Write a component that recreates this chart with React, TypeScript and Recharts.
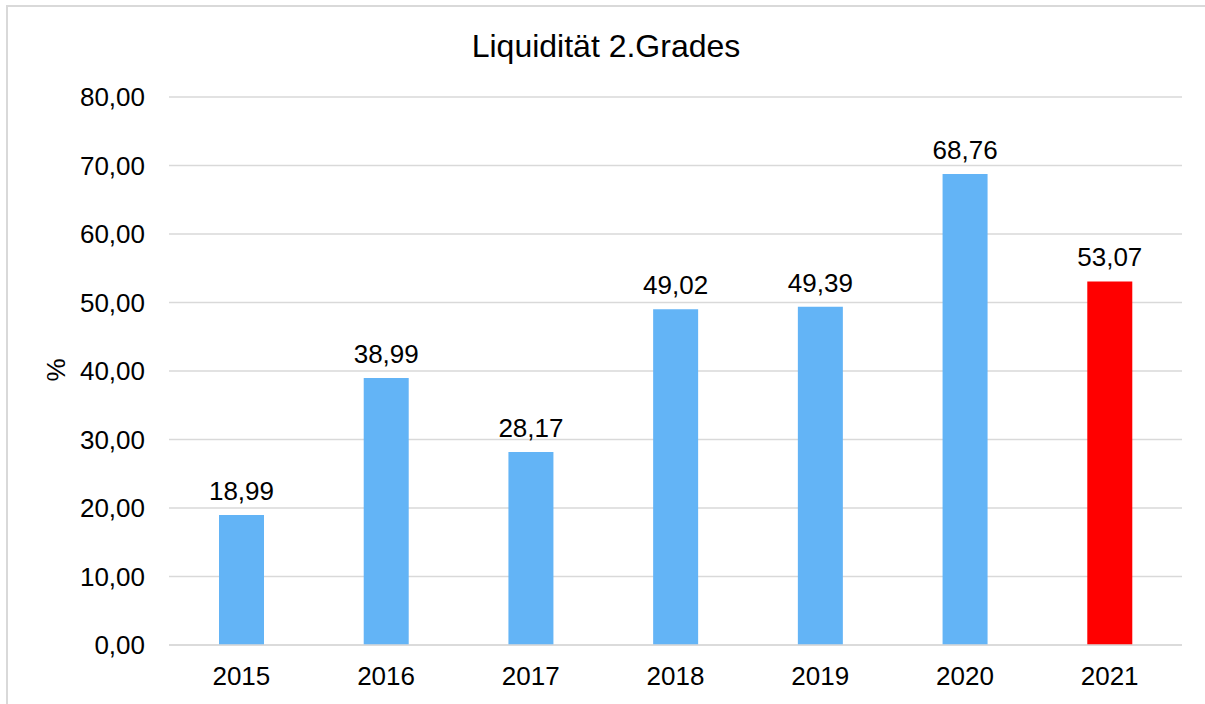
import { BarChart, Bar, XAxis, YAxis, CartesianGrid, Cell, LabelList } from 'recharts';

const years = ['2015', '2016', '2017', '2018', '2019', '2020', '2021'];
const liquidity = [18.99, 38.99, 28.17, 49.02, 49.39, 68.76, 53.07];
const yTicks = [0, 10, 20, 30, 40, 50, 60, 70, 80];
const highlightYear = '2021';

const BLUE = '#63B4F6';
const RED = '#FF0000';
const GRID = '#D9D9D9';
const FONT = '"Liberation Sans", Arial, sans-serif';

const data = years.map((year, i) => ({ year, value: liquidity[i] }));

const fmt = (v: number | string) => Number(v).toFixed(2).replace('.', ',');

export default function App() {
  return (
    <div style={{ position: 'absolute', left: 0, top: 0, width: 1205, height: 704, background: '#fff', fontFamily: FONT }}>
      <div
        style={{
          position: 'absolute',
          left: 6,
          top: 5,
          right: 0,
          bottom: 0,
          borderTop: `2px solid ${GRID}`,
          borderLeft: `2px solid ${GRID}`,
        }}
      />
      <BarChart
        width={1205}
        height={704}
        data={data}
        margin={{ top: 97, right: 23, bottom: 19, left: 69 }}
        barSize={45}
        style={{ position: 'absolute', left: 0, top: 0 }}
      >
        <CartesianGrid vertical={false} stroke={GRID} strokeWidth={1.5} />
        <XAxis
          dataKey="year"
          height={40}
          axisLine={{ stroke: GRID, strokeWidth: 1.5 }}
          tickLine={false}
          tickSize={0}
          tickMargin={22}
          tick={{ fill: '#000', fontSize: 26, fontFamily: FONT }}
        />
        <YAxis
          width={100}
          domain={[0, 80]}
          ticks={yTicks}
          interval={0}
          axisLine={false}
          tickLine={false}
          tickSize={0}
          tickMargin={24}
          tickFormatter={fmt}
          tick={{ fill: '#000', fontSize: 26, fontFamily: FONT }}
        />
        <Bar dataKey="value" isAnimationActive={false}>
          {data.map((d) => (
            <Cell key={d.year} fill={d.year === highlightYear ? RED : BLUE} />
          ))}
          <LabelList
            dataKey="value"
            position="top"
            offset={15}
            formatter={fmt}
            style={{ fill: '#000', fontSize: 26, fontFamily: FONT }}
          />
        </Bar>
        <text x={606} y={57} textAnchor="middle" fontSize={32} fontFamily={FONT} fill="#000">
          Liquidität 2.Grades
        </text>
        <text
          x={65}
          y={370}
          textAnchor="middle"
          fontSize={26}
          fontFamily={FONT}
          fill="#000"
          transform="rotate(-90, 65, 370)"
        >
          %
        </text>
      </BarChart>
    </div>
  );
}
